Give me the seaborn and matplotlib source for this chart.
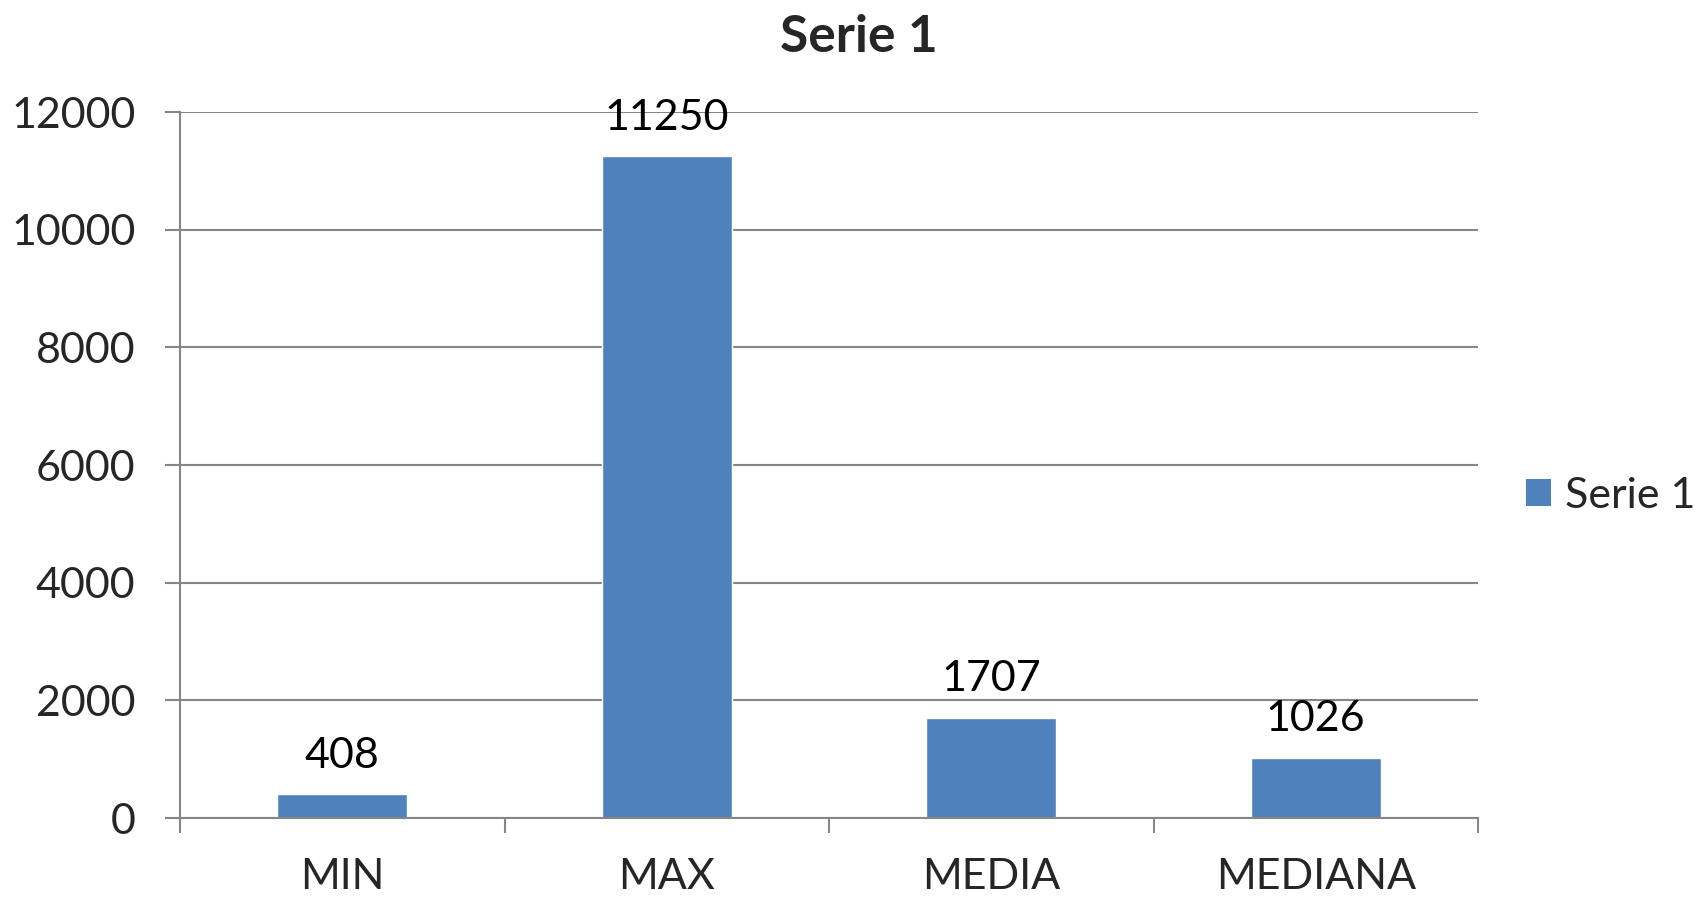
import matplotlib
matplotlib.use("Agg")
import matplotlib.pyplot as plt
import seaborn as sns
import pandas as pd
from matplotlib.patches import Patch

categories = ["MIN", "MAX", "MEDIA", "MEDIANA"]
values = [408, 11250, 1707, 1026]
series_name = "Serie 1"
y_ticks = [0, 2000, 4000, 6000, 8000, 10000, 12000]

sns.set_theme(style="white")
plt.rcParams["font.family"] = ["Lato", "DejaVu Sans"]

bar_color = "#4F81BD"
grid_color = "#868686"

df = pd.DataFrame({"cat": categories, "val": values})

fig = plt.figure(figsize=(17.08, 9.01), dpi=100)
ax = fig.add_axes([180 / 1708, 1 - 818 / 901, (1478 - 180) / 1708, (818 - 112) / 901])

sns.barplot(data=df, x="cat", y="val", color=bar_color, width=0.4,
            saturation=1, ax=ax, zorder=3)

ax.set_xlim(-0.5, len(categories) - 0.5)
ax.set_ylim(0, 12000)
ax.set_yticks(y_ticks)
ax.set_yticklabels([str(t) for t in y_ticks], fontsize=31)
ax.yaxis.grid(True, color=grid_color, linewidth=1.5, zorder=0)
ax.tick_params(axis="y", which="major", direction="out", length=11,
               width=1.5, color=grid_color, left=True, pad=21)

# category labels at centres, tick marks at category boundaries
ax.set_xticks(range(len(categories)))
ax.set_xticklabels(categories, fontsize=31)
ax.tick_params(axis="x", which="major", length=0, pad=29)
ax.set_xticks([i - 0.5 for i in range(len(categories) + 1)], minor=True)
ax.tick_params(axis="x", which="minor", direction="out", length=11,
               width=1.5, color=grid_color, bottom=True)

ax.set_xlabel("")
ax.set_ylabel("")

for side in ["top", "right"]:
    ax.spines[side].set_visible(False)
for side in ["left", "bottom"]:
    ax.spines[side].set_color(grid_color)
    ax.spines[side].set_linewidth(1.5)
    ax.spines[side].set_zorder(4)

for i, v in enumerate(values):
    ax.annotate(str(v), (i, v), xytext=(0, 14), textcoords="offset points",
                ha="center", va="bottom", fontsize=31, color="black")

fig.suptitle(series_name, x=0.503, y=0.985,
             fontsize=37, fontweight="bold", va="top")

handle = Patch(facecolor=bar_color, edgecolor="none")
fig.legend([handle], [series_name], loc="center left",
           bbox_to_anchor=(1509 / 1708, 1 - 496 / 901), frameon=False,
           fontsize=31, handlelength=0.58, handleheight=0.58, handletextpad=0.33,
           borderaxespad=0)

fig.savefig("out.png", dpi=100, facecolor="white")
